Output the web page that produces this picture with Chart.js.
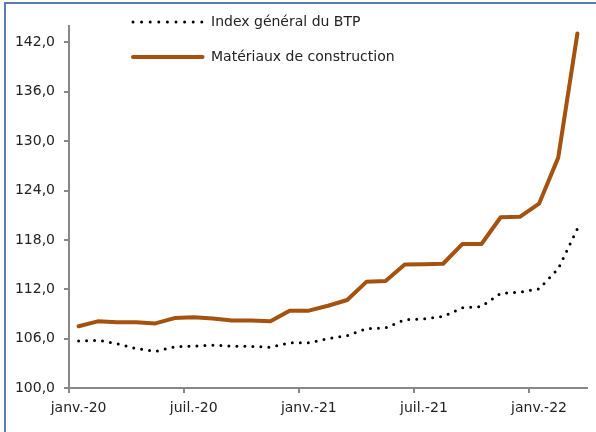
<!DOCTYPE html>
<html>
<head>
<meta charset="utf-8">
<script src="https://cdn.jsdelivr.net/npm/chart.js@4/dist/chart.umd.min.js"></script>
<style>
  html, body { margin: 0; padding: 0; background: #fff; }
  #wrap { position: relative; width: 596px; height: 432px; overflow: hidden; }
  #frame { position: absolute; left: 4px; top: 2px; right: -4px; bottom: -4px;
           border-left: 2px solid #5a7db0; border-top: 2px solid #5a7db0; }
  canvas { position: absolute; left: 0; top: 0; }
</style>
</head>
<body>
<div id="wrap">
  <div id="frame"></div>
  <canvas id="c" width="596" height="432"></canvas>
</div>
<script>
const categories = [
  "janv.-20","févr.-20","mars-20","avr.-20","mai-20","juin-20",
  "juil.-20","août-20","sept.-20","oct.-20","nov.-20","déc.-20",
  "janv.-21","févr.-21","mars-21","avr.-21","mai-21","juin-21",
  "juil.-21","août-21","sept.-21","oct.-21","nov.-21","déc.-21",
  "janv.-22","févr.-22","mars-22"
];
const indexBTP = [105.7, 105.8, 105.4, 104.8, 104.45, 105.0, 105.1, 105.2, 105.1, 105.05, 104.95, 105.5,
                  105.5, 106.0, 106.35, 107.2, 107.3, 108.3, 108.4, 108.7, 109.75, 109.9, 111.5, 111.65,
                  112.05, 114.5, 119.35];
const materiaux = [107.5, 108.1, 108.0, 108.0, 107.85, 108.5, 108.6, 108.45, 108.2, 108.2, 108.1, 109.4,
                   109.4, 110.0, 110.7, 112.9, 113.0, 115.0, 115.05, 115.1, 117.5, 117.5, 120.75, 120.8,
                   122.4, 128.0, 143.1];
const seriesLabels = ["Index général du BTP", "Matériaux de construction"];
const yTickValues = [100, 106, 112, 118, 124, 130, 136, 142];
const yMin = 100, yMax = 144;

const FONT = "'DejaVu Sans', sans-serif";
const TEXT = '#222';
const AXIS = '#888';
const ORANGE = '#A4520E';

const legendPlugin = {
  id: 'customLegend',
  afterDraw(chart) {
    const ctx = chart.ctx;
    const rows = [22, 57];
    chart.data.datasets.forEach((ds, i) => {
      const y = rows[i];
      ctx.save();
      ctx.strokeStyle = ds.borderColor;
      ctx.lineWidth = ds.borderWidth;
      ctx.lineCap = 'round';
      if (ds.borderDash && ds.borderDash.length) ctx.setLineDash([0, 8.6]);
      ctx.beginPath();
      ctx.moveTo(133, y);
      ctx.lineTo(202.5, y);
      ctx.stroke();
      ctx.setLineDash([]);
      ctx.fillStyle = TEXT;
      ctx.font = "14px " + FONT;
      ctx.textBaseline = 'middle';
      ctx.textAlign = 'left';
      ctx.fillText(ds.label, 211, y);
      ctx.restore();
    });
  }
};

new Chart(document.getElementById('c'), {
  type: 'line',
  data: {
    labels: categories,
    datasets: [
      {
        label: seriesLabels[0],
        data: indexBTP,
        borderColor: '#000',
        borderWidth: 3,
        borderDash: [0, 8],
        borderCapStyle: 'round',
        pointRadius: 0,
        tension: 0,
        fill: false
      },
      {
        label: seriesLabels[1],
        data: materiaux,
        borderColor: ORANGE,
        borderWidth: 4,
        borderJoinStyle: 'round',
        borderCapStyle: 'round',
        pointRadius: 0,
        tension: 0,
        fill: false
      }
    ]
  },
  options: {
    responsive: false,
    animation: false,
    devicePixelRatio: 1,
    layout: { padding: { left: 0, right: 9, top: 26, bottom: 0 } },
    plugins: { legend: { display: false }, tooltip: { enabled: false } },
    scales: {
      x: {
        type: 'category',
        offset: true,
        afterFit(scale) { scale.height = 44; },
        border: { display: true, color: AXIS, width: 2 },
        grid: {
          display: true,
          offset: true,
          drawOnChartArea: false,
          drawTicks: true,
          tickLength: 5,
          lineWidth: 2,
          tickColor: (c) => (c.index % 6 === 0 && c.index < categories.length) ? AXIS : 'rgba(0,0,0,0)',
          color: 'rgba(0,0,0,0)'
        },
        ticks: {
          autoSkip: false,
          maxRotation: 0,
          minRotation: 0,
          padding: 7,
          color: TEXT,
          font: { family: FONT, size: 14 },
          callback: function(v, i) { return i % 6 === 0 ? categories[i] : ''; }
        }
      },
      y: {
        min: yMin,
        max: yMax,
        afterFit(scale) { scale.width = 69; },
        afterBuildTicks(scale) {
          scale.ticks = yTickValues.map(v => ({ value: v }));
        },
        border: { display: true, color: AXIS, width: 2 },
        grid: {
          display: true,
          drawOnChartArea: false,
          drawTicks: true,
          tickLength: 5,
          lineWidth: 2,
          tickColor: AXIS,
          color: 'rgba(0,0,0,0)'
        },
        ticks: {
          autoSkip: false,
          padding: 9,
          color: TEXT,
          font: { family: FONT, size: 14 },
          callback: (v) => Number(v).toFixed(1).replace('.', ',')
        }
      }
    }
  },
  plugins: [legendPlugin]
});
</script>
</body>
</html>
